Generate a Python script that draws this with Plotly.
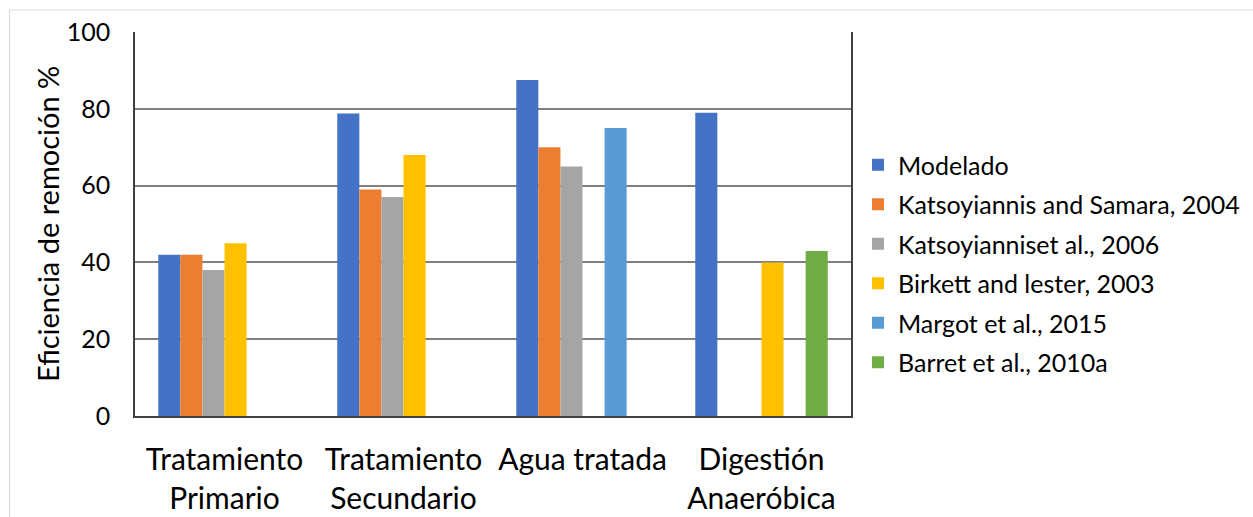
import plotly.graph_objects as go

# Categorías de tratamiento (eje X)
categorias = ["Tratamiento<br>Primario", "Tratamiento<br>Secundario",
              "Agua tratada", "Digestión<br>Anaeróbica"]

# Eficiencia de remoción (%) por fuente; None = sin dato
modelado = [42, 78.8, 87.5, 79]
katsoyiannis_2004 = [42, 59, 70, None]
katsoyiannis_2006 = [38, 57, 65, None]
birkett_2003 = [45, 68, None, 40]
margot_2015 = [None, None, 75, None]
barret_2010a = [None, None, None, 43]

series = [
    ("Modelado", modelado, "#4472C4"),
    ("Katsoyiannis and Samara, 2004", katsoyiannis_2004, "#ED7D31"),
    ("Katsoyianniset al., 2006", katsoyiannis_2006, "#A5A5A5"),
    ("Birkett and lester, 2003", birkett_2003, "#FFC000"),
    ("Margot et al., 2015", margot_2015, "#5B9BD5"),
    ("Barret et al., 2010a", barret_2010a, "#70AD47"),
]

y_ticks = [0, 20, 40, 60, 80, 100]

FONT = "Lato"
W, H = 1253, 517
L, R, T, B = 135, 402, 32, 101
PW, PH = W - L - R, H - T - B

fig = go.Figure()
for i, (name, vals, color) in enumerate(series):
    fig.add_trace(go.Bar(
        name=name, x=categorias, y=vals,
        marker=dict(color=color, line=dict(width=0)),
        legendgroup=f"g{i}",
    ))


def px_x(p):
    return (p - L) / PW


def px_y(p):
    return (H - B - p) / PH


# Marco exterior del gráfico (bordes superior e izquierdo)
border = dict(type="line", xref="paper", yref="paper",
              line=dict(color="#D9D9D9", width=1.2))
fig.add_shape(x0=px_x(9.5), x1=px_x(W), y0=px_y(10), y1=px_y(10), **border)
fig.add_shape(x0=px_x(9.5), x1=px_x(9.5), y0=px_y(10), y1=px_y(H), **border)

# Título del eje Y
fig.add_annotation(
    text="Eficiencia de remoción %", textangle=-90,
    xref="paper", yref="paper", x=px_x(47), y=px_y(224),
    xanchor="center", yanchor="middle", showarrow=False,
    font=dict(family=FONT, size=29, color="#000000"),
)

fig.update_layout(
    width=W, height=H,
    margin=dict(l=L, r=R, t=T, b=B, pad=0, autoexpand=False),
    paper_bgcolor="white", plot_bgcolor="white",
    barmode="group", bargap=0.26, bargroupgap=0,
    font=dict(family=FONT, color="#000000"),
    legend=dict(
        x=px_x(858), xanchor="left", y=px_y(142), yanchor="top",
        font=dict(family=FONT, size=25, color="#000000"),
        tracegroupgap=4, itemwidth=30,
        bgcolor="rgba(0,0,0,0)",
    ),
    showlegend=True,
)

fig.update_xaxes(
    showline=True, linecolor="#404040", linewidth=1.5,
    ticks="", tickfont=dict(family=FONT, size=30, color="#000000"),
    ticklabelstandoff=16, automargin=False,
)
fig.update_yaxes(
    range=[0, 100], tickvals=y_ticks,
    showline=True, linecolor="#404040", linewidth=1.5, mirror=True,
    showgrid=True, gridcolor="#808080", gridwidth=1.5,
    zeroline=False,
    ticks="", tickfont=dict(family=FONT, size=25, color="#000000"),
    ticklabelstandoff=18, automargin=False,
)

fig.write_html("out.html")
